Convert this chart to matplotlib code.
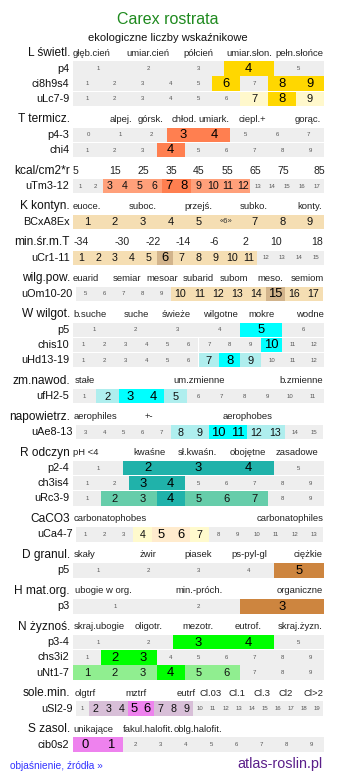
import matplotlib.pyplot as plt

plt.rcParams['font.family'] = ['Liberation Sans', 'DejaVu Sans']

W, H = 337, 781

# ---- dane: liczby wskaźnikowe ----
title = "Carex rostrata"
subtitle = "ekologiczne liczby wskaźnikowe"

L_heads = ["głęb.cień", "umiar.cień", "półcień", "umiar.słon.", "pełn.słońce"]
L_rows = ["p4", "ci8h9s4", "uLc7-9"]
L_scale = [(1, 5), (1, 9), (1, 9)]
L_hi = [[4], [6, 8, 9], [8]]
L_lo = [[], [], [7, 9]]

T_heads = ["alpej.", "górsk.", "chłod.", "umiark.", "ciepl.+", "gorąc."]
T_rows = ["p4-3", "chi4"]
T_scale = [(0, 7), (1, 9)]
T_hi = [[3, 4], [4]]
T_lo = [[], []]

E_heads = [5, 15, 25, 35, 45, 55, 65, 75, 85]
E_rows = ["uTm3-12"]
E_scale = [(1, 17)]
E_hi = [[7, 8]]
E_lo = [[3, 4, 5, 6, 9, 10, 11, 12]]

K_heads = ["euoce.", "suboc.", "przejś.", "subko.", "konty."]
K_rows = ["BCxA8Ex"]
K_scale = [(1, 9)]
K_hi = [[]]
K_lo = [[1, 2, 3, 4, 5, 6, 7, 8, 9]]
K_doubt = [6]

M_heads = [-34, -30, -22, -14, -6, 2, 10, 18]
M_rows = ["uCr1-11"]
M_scale = [(1, 15)]
M_hi = [[6]]
M_lo = [[1, 2, 3, 4, 5, 7, 8, 9, 10, 11]]

P_heads = ["euarid", "semiar", "mesoar", "subarid", "subom", "meso.", "semiom"]
P_rows = ["uOm10-20"]
P_scale = [(5, 17)]
P_hi = [[15]]
P_lo = [[10, 11, 12, 13, 14, 16, 17]]

W_heads = ["b.suche", "suche", "świeże", "wilgotne", "mokre", "wodne"]
W_rows = ["p5", "chis10", "uHd13-19"]
W_scale = [(1, 6), (1, 12), (1, 12)]
W_hi = [[5], [10], [8]]
W_lo = [[], [], [7, 9]]

Z_heads = ["stałe", "um.zmienne", "b.zmienne"]
Z_rows = ["ufH2-5"]
Z_scale = [(1, 11)]
Z_hi = [[3, 4]]
Z_lo = [[2, 5]]

A_heads = ["aerophiles", "+-", "aerophobes"]
A_rows = ["uAe8-13"]
A_scale = [(3, 15)]
A_hi = [[10, 11]]
A_lo = [[8, 9, 12, 13]]

R_heads = ["pH <4", "kwaśne", "sł.kwaśn.", "obojętne", "zasadowe"]
R_rows = ["p2-4", "ch3is4", "uRc3-9"]
R_scale = [(1, 5), (1, 9), (1, 9)]
R_hi = [[2, 3, 4], [3, 4], [4]]
R_lo = [[], [], [2, 3, 5, 6, 7]]

C_heads = ["carbonatophobes", "carbonatophiles"]
C_rows = ["uCa4-7"]
C_scale = [(1, 13)]
C_hi = [[5, 6]]
C_lo = [[4, 7]]

D_heads = ["skały", "żwir", "piasek", "ps-pyl-gl", "ciężkie"]
D_rows = ["p5"]
D_scale = [(1, 5)]
D_hi = [[5]]
D_lo = [[]]

O_heads = ["ubogie w org.", "min.-próch.", "organiczne"]
O_rows = ["p3"]
O_scale = [(1, 3)]
O_hi = [[3]]
O_lo = [[]]

N_heads = ["skraj.ubogie", "oligotr.", "mezotr.", "eutrof.", "skraj.żyzn."]
N_rows = ["p3-4", "chs3i2", "uNt1-7"]
N_scale = [(1, 5), (1, 9), (1, 9)]
N_hi = [[3, 4], [2, 3], [4]]
N_lo = [[], [], [1, 2, 3, 5, 6]]

S_heads = ["olgtrf", "mztrf", "eutrf", "Cl.03", "Cl.1", "Cl.3", "Cl2", "Cl>2"]
S_rows = ["uSl2-9"]
S_scale = [(1, 19)]
S_hi = [[5, 6]]
S_lo = [[2, 3, 4, 7, 8, 9]]

Z2_heads = ["unikające", "fakul.halofit.", "oblg.halofit."]
Z2_rows = ["cib0s2"]
Z2_scale = [(0, 9)]
Z2_hi = [[0, 1]]
Z2_lo = [[]]

sections = [
    ("L świetl.", L_heads, L_rows, L_scale, L_hi, L_lo),
    ("T termicz.", T_heads, T_rows, T_scale, T_hi, T_lo),
    ("kcal/cm2*r", E_heads, E_rows, E_scale, E_hi, E_lo),
    ("K kontyn.", K_heads, K_rows, K_scale, K_hi, K_lo),
    ("min.śr.m.T", M_heads, M_rows, M_scale, M_hi, M_lo),
    ("wilg.pow.", P_heads, P_rows, P_scale, P_hi, P_lo),
    ("W wilgot.", W_heads, W_rows, W_scale, W_hi, W_lo),
    ("zm.nawod.", Z_heads, Z_rows, Z_scale, Z_hi, Z_lo),
    ("napowietrz.", A_heads, A_rows, A_scale, A_hi, A_lo),
    ("R odczyn", R_heads, R_rows, R_scale, R_hi, R_lo),
    ("CaCO3", C_heads, C_rows, C_scale, C_hi, C_lo),
    ("D granul.", D_heads, D_rows, D_scale, D_hi, D_lo),
    ("H mat.org.", O_heads, O_rows, O_scale, O_hi, O_lo),
    ("N żyznoś.", N_heads, N_rows, N_scale, N_hi, N_lo),
    ("sole.min.", S_heads, S_rows, S_scale, S_hi, S_lo),
    ("S zasol.", Z2_heads, Z2_rows, Z2_scale, Z2_hi, Z2_lo),
]

# ---- wygląd ----
colors = {
    "L świetl.": ("#ffd700", "#fff8cc"),
    "T termicz.": ("#ff7f50", "#ffa07a"),
    "kcal/cm2*r": ("#ff7f50", "#ffa07a"),
    "K kontyn.": ("#d2b48c", "#f5deb3"),
    "min.śr.m.T": ("#d2b48c", "#f5deb3"),
    "wilg.pow.": ("#d2b48c", "#f5deb3"),
    "W wilgot.": ("#00ffff", "#afeeee"),
    "zm.nawod.": ("#00ffff", "#afeeee"),
    "napowietrz.": ("#00ffff", "#afeeee"),
    "R odczyn": ("#20b2aa", "#66cdaa"),
    "CaCO3": ("#ffebcd", "#fffacd"),
    "D granul.": ("#cd853f", "#deb887"),
    "H mat.org.": ("#cd853f", "#deb887"),
    "N żyznoś.": ("#00ff00", "#90ee90"),
    "sole.min.": ("#ee82ee", "#d8bfd8"),
    "S zasol.": ("#ee82ee", "#d8bfd8"),
}
head_x = {
    "L świetl.": [92, 148, 198, 249, 299],
    "T termicz.": [121, 151, 184, 214, 252, 308],
    "kcal/cm2*r": [76, 115, 143, 171, 199, 227, 255, 283, 319],
    "K kontyn.": [87, 143, 198, 254, 310],
    "min.śr.m.T": [81, 122, 153, 183, 214, 245, 276, 317],
    "wilg.pow.": [86, 127, 162, 198, 234, 270, 307],
    "W wilgot.": [90, 136, 176, 220, 262, 310],
    "zm.nawod.": [85, 199, 301],
    "napowietrz.": [95, 149, 248],
    "R odczyn": [86, 149, 197, 248, 297],
    "CaCO3": [110, 290],
    "D granul.": [85, 148, 198, 249, 308],
    "H mat.org.": [103, 199, 300],
    "N żyznoś.": [99, 149, 198, 248, 300],
    "sole.min.": [85, 136, 186, 211, 237, 262, 286, 313],
    "S zasol.": [93, 148, 198],
}
inset_rows = {"uOm10-20", "uAe8-13", "uCa4-7", "uSl2-9"}
GRAY = "#eeeeee"
BAND = 14.4
HEAD_TO_ROW, PITCH, GAP = 15.5, 15.2, 20.45

fig = plt.figure(figsize=(W / 100, H / 100), dpi=100)
bg = fig.add_axes([0, 0, 1, 1])
bg.set_xlim(0, W)
bg.set_ylim(H, 0)
bg.axis('off')

bg.text(168, 20, title, color='#1f8a1f', fontsize=11.5, ha='center', va='center')
bg.text(168, 38, subtitle, color='#111111', fontsize=8, ha='center', va='center')


def draw_row(yc, label, scale, strong, weak, cols, doubt=()):
    x0, x1 = (76, 323) if label in inset_rows else (73, 324)
    bg.text(x0 - 3.5, yc, label, ha='right', va='center', fontsize=7.8, color='#111111')
    ax = fig.add_axes([x0 / W, 1 - (yc + BAND / 2) / H, (x1 - x0) / W, BAND / H])
    vals = list(range(scale[0], scale[1] + 1))
    fills = [cols[0] if v in strong else cols[1] if v in weak else GRAY for v in vals]
    ax.bar(vals, 1, width=1.0, color=fills, linewidth=0, antialiased=False)
    ax.set_xlim(vals[0] - 0.5, vals[-1] + 0.5)
    ax.set_ylim(0, 1)
    ax.axis('off')
    cell = (x1 - x0) / len(vals)
    big = 9.4
    mid = 8.0 if cell >= 20 else 7.7
    for v in vals:
        if v in doubt:
            ax.text(v, 0.5, "«%d»" % v, ha='center', va='center', fontsize=5.5, color='#333333')
        elif v in strong:
            ax.text(v, 0.47, str(v), ha='center', va='center', fontsize=big, color='#000000')
        elif v in weak:
            ax.text(v, 0.47, str(v), ha='center', va='center', fontsize=mid, color='#111111')
        else:
            ax.text(v, 0.5, str(v), ha='center', va='center', fontsize=4.3, color='#555555')


y = 53
for i, (name, heads, rows, scales, his, los) in enumerate(sections):
    if i:
        y += GAP
    bg.text(70, y, name, ha='right', va='center', fontsize=8.6, color='#111111')
    numeric = isinstance(heads[0], int)
    for h, hx in zip(heads, head_x[name]):
        bg.text(hx, y, str(h), ha='center', va='center',
                fontsize=7.6 if numeric else 6.8, color='#222222')
    y += HEAD_TO_ROW
    for j, row in enumerate(rows):
        if j:
            y += PITCH
        doubt = K_doubt if name == "K kontyn." else ()
        draw_row(y, row, scales[j], his[j], los[j], colors[name], doubt)

bg.text(10, 766, "objaśnienie, źródła »", color='#3333ff', fontsize=7.3, ha='left', va='center')
bg.text(322, 764, "atlas-roslin.pl", color='#5b1f8a', fontsize=10.4, ha='right', va='center')

fig.savefig('out.png', dpi=100)
